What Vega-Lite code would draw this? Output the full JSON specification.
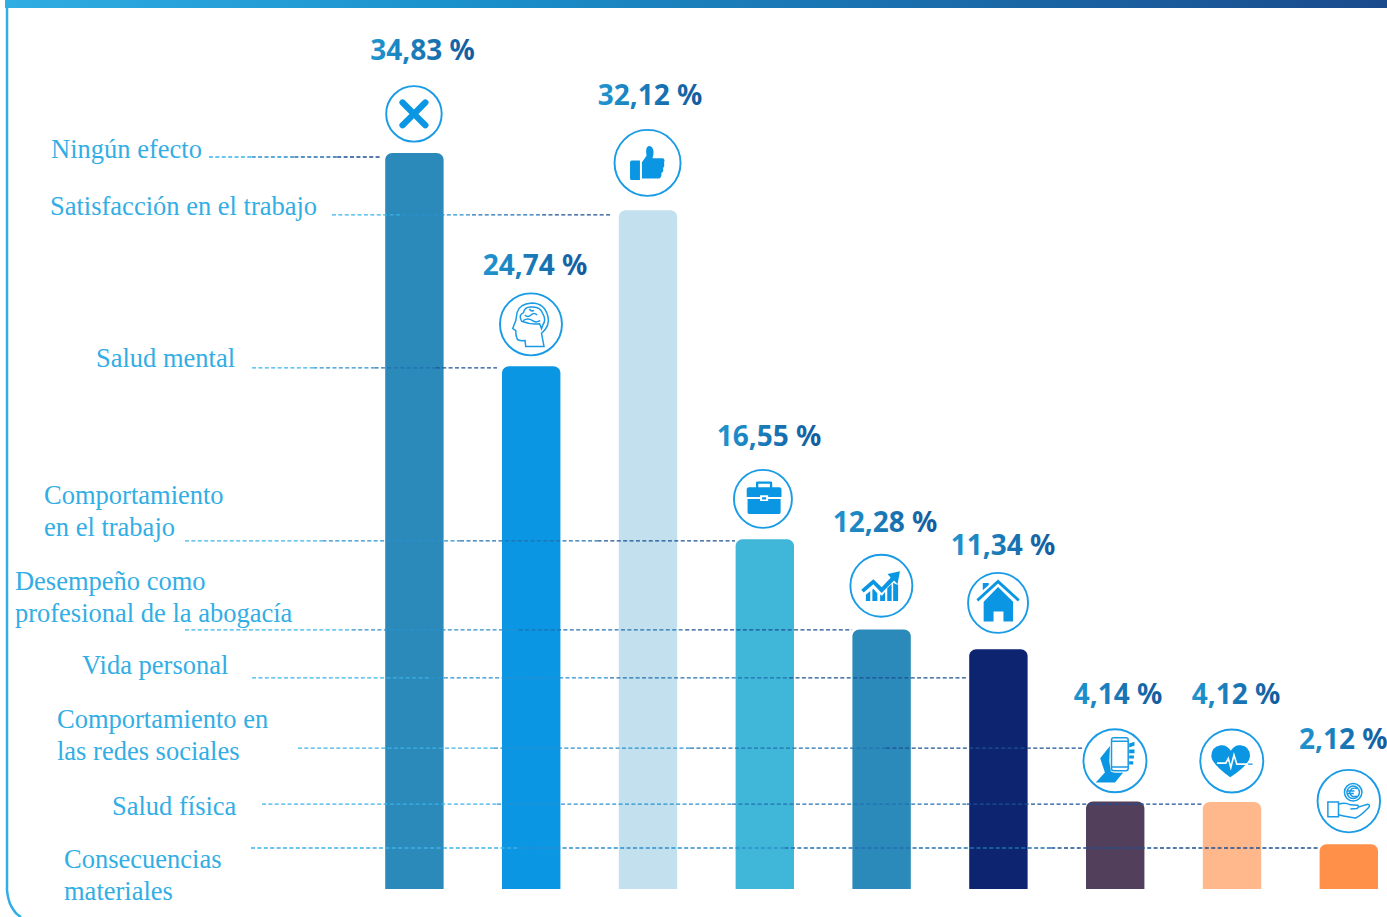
{
"$schema":"https://vega.github.io/schema/vega-lite/v6.json",
"width":1387,"height":917,"padding":0,"autosize":{"type":"none"},"background":"#ffffff",
"config":{"view":{"stroke":null},"axis":{"disable":true},"legend":{"disable":true},"scale":{"continuousPadding":0}},
"datasets":{
"barras":[
{"categoria":"Ningún efecto","columna":1,"valor":34.83,"etiqueta":"34,83 %","x_etiqueta":1.069,"y_etiqueta":39.24,"x_icono":0.996,"y_icono":36.68},
{"categoria":"Salud mental","columna":2,"valor":24.74,"etiqueta":"24,74 %","x_etiqueta":2.032,"y_etiqueta":29.07,"x_icono":1.998,"y_icono":26.72},
{"categoria":"Satisfacción en el trabajo","columna":3,"valor":32.12,"etiqueta":"32,12 %","x_etiqueta":3.017,"y_etiqueta":37.11,"x_icono":2.996,"y_icono":34.36},
{"categoria":"Comportamiento en el trabajo","columna":4,"valor":16.55,"etiqueta":"16,55 %","x_etiqueta":4.036,"y_etiqueta":20.97,"x_icono":3.984,"y_icono":18.46},
{"categoria":"Desempeño como profesional de la abogacía","columna":5,"valor":12.28,"etiqueta":"12,28 %","x_etiqueta":5.029,"y_etiqueta":16.90,"x_icono":4.998,"y_icono":14.35},
{"categoria":"Vida personal","columna":6,"valor":11.34,"etiqueta":"11,34 %","x_etiqueta":6.039,"y_etiqueta":15.81,"x_icono":5.997,"y_icono":13.54},
{"categoria":"Comportamiento en las redes sociales","columna":7,"valor":4.14,"etiqueta":"4,14 %","x_etiqueta":7.024,"y_etiqueta":8.76,"x_icono":6.998,"y_icono":6.07},
{"categoria":"Salud física","columna":8,"valor":4.12,"etiqueta":"4,12 %","x_etiqueta":8.034,"y_etiqueta":8.76,"x_icono":7.998,"y_icono":6.06},
{"categoria":"Consecuencias materiales","columna":9,"valor":2.12,"etiqueta":"2,12 %","x_etiqueta":8.952,"y_etiqueta":6.63,"x_icono":9.0,"y_icono":4.16}
],
"rotulos":[
{"texto":"Ningún efecto","x":-2.111,"y":34.59},
{"texto":"Satisfacción en el trabajo","x":-2.120,"y":31.89},
{"texto":"Salud mental","x":-1.726,"y":24.70},
{"texto":"Comportamiento\nen el trabajo","x":-2.171,"y":18.22},
{"texto":"Desempeño como\nprofesional de la abogacía","x":-2.420,"y":14.15},
{"texto":"Vida personal","x":-1.846,"y":10.17},
{"texto":"Comportamiento en\nlas redes sociales","x":-2.060,"y":7.62},
{"texto":"Salud física","x":-1.589,"y":3.50},
{"texto":"Consecuencias\nmateriales","x":-2.000,"y":0.99}
],
"guias":[
{"g":"Ningún efecto","y":34.64,"x0":-0.759,"x1":-0.393,"tono":1},
{"g":"Ningún efecto","y":34.64,"x0":-0.393,"x1":-0.027,"tono":2},
{"g":"Ningún efecto","y":34.64,"x0":-0.027,"x1":0.339,"tono":3},
{"g":"Ningún efecto","y":34.64,"x0":0.339,"x1":0.705,"tono":4},
{"g":"Satisfacción","y":31.90,"x0":0.294,"x1":0.894,"tono":1},
{"g":"Satisfacción","y":31.90,"x0":0.894,"x1":1.493,"tono":2},
{"g":"Satisfacción","y":31.90,"x0":1.493,"x1":2.093,"tono":3},
{"g":"Satisfacción","y":31.90,"x0":2.093,"x1":2.692,"tono":4},
{"g":"Salud mental","y":24.66,"x0":-0.390,"x1":0.134,"tono":1},
{"g":"Salud mental","y":24.66,"x0":0.134,"x1":0.659,"tono":2},
{"g":"Salud mental","y":24.66,"x0":0.659,"x1":1.183,"tono":3},
{"g":"Salud mental","y":24.66,"x0":1.183,"x1":1.707,"tono":4},
{"g":"Comportamiento","y":16.47,"x0":-0.964,"x1":0.213,"tono":1},
{"g":"Comportamiento","y":16.47,"x0":0.213,"x1":1.391,"tono":2},
{"g":"Comportamiento","y":16.47,"x0":1.391,"x1":2.568,"tono":3},
{"g":"Comportamiento","y":16.47,"x0":2.568,"x1":3.745,"tono":4},
{"g":"Desempeño","y":12.26,"x0":-0.964,"x1":0.464,"tono":1},
{"g":"Desempeño","y":12.26,"x0":0.464,"x1":1.892,"tono":2},
{"g":"Desempeño","y":12.26,"x0":1.892,"x1":3.319,"tono":3},
{"g":"Desempeño","y":12.26,"x0":3.319,"x1":4.747,"tono":4},
{"g":"Vida personal","y":9.99,"x0":-0.390,"x1":1.143,"tono":1},
{"g":"Vida personal","y":9.99,"x0":1.143,"x1":2.675,"tono":2},
{"g":"Vida personal","y":9.99,"x0":2.675,"x1":4.208,"tono":3},
{"g":"Vida personal","y":9.99,"x0":4.208,"x1":5.740,"tono":4},
{"g":"Redes","y":6.67,"x0":0.003,"x1":1.681,"tono":1},
{"g":"Redes","y":6.67,"x0":1.681,"x1":3.360,"tono":2},
{"g":"Redes","y":6.67,"x0":3.360,"x1":5.038,"tono":3},
{"g":"Redes","y":6.67,"x0":5.038,"x1":6.716,"tono":4},
{"g":"Salud física","y":4.02,"x0":-0.305,"x1":1.707,"tono":1},
{"g":"Salud física","y":4.02,"x0":1.707,"x1":3.719,"tono":2},
{"g":"Salud física","y":4.02,"x0":3.719,"x1":5.731,"tono":3},
{"g":"Salud física","y":4.02,"x0":5.731,"x1":7.743,"tono":4},
{"g":"Consecuencias","y":1.94,"x0":-0.399,"x1":1.885,"tono":1},
{"g":"Consecuencias","y":1.94,"x0":1.885,"x1":4.169,"tono":2},
{"g":"Consecuencias","y":1.94,"x0":4.169,"x1":6.452,"tono":3},
{"g":"Consecuencias","y":1.94,"x0":6.452,"x1":8.736,"tono":4}
],
"marco":[{"x":-2.488,"y":41.69},{"x":-2.488,"y":-0.05},{"x":-2.475,"y":-0.47},{"x":-2.437,"y":-0.95},{"x":-2.368,"y":-1.325}],
"banda":[{"x0":-2.505,"x1":9.327,"y0":41.69,"y1":42.07}]
},
"layer":[
{"data":{"name":"banda"},
 "mark":{"type":"rect","color":{"gradient":"linear","x1":0,"y1":0,"x2":1,"y2":0,"stops":[{"offset":0,"color":"#30ade3"},{"offset":0.35,"color":"#1a8fca"},{"offset":1,"color":"#1a4a8c"}]}},
 "encoding":{
  "x":{"field":"x0","type":"quantitative","scale":{"domain":[-2.548,9.327],"range":[0,1387],"nice":false,"zero":false,"padding":0}},
  "x2":{"field":"x1"},
  "y":{"field":"y0","type":"quantitative","scale":{"domain":[-1.325,42.07],"range":[917,0],"nice":false,"zero":false}},
  "y2":{"field":"y1"}}},
{"data":{"name":"marco"},
 "mark":{"type":"line","color":"#32aee4","strokeWidth":2.5,"interpolate":"monotone"},
 "encoding":{"x":{"field":"x","type":"quantitative"},"y":{"field":"y","type":"quantitative","sort":null},"order":{"field":"y","sort":"descending"}}},
{"data":{"name":"barras"},
 "mark":{"type":"bar","orient":"vertical","width":58.4,"cornerRadiusTopLeft":7,"cornerRadiusTopRight":7},
 "encoding":{"x":{"field":"columna","type":"quantitative"},"y":{"field":"valor","type":"quantitative","stack":null},
  "color":{"field":"categoria","type":"nominal","scale":{"domain":["Ningún efecto","Salud mental","Satisfacción en el trabajo","Comportamiento en el trabajo","Desempeño como profesional de la abogacía","Vida personal","Comportamiento en las redes sociales","Salud física","Consecuencias materiales"],"range":["#2b8ab9","#0b96e3","#c3e0ef","#40b6d8","#2b8ab9","#0d2570","#523f5b","#ffb88c","#ff9049"]},"legend":null}}},
{"data":{"name":"guias"},
 "mark":{"type":"rule","strokeWidth":1.3,"strokeDash":[4,2.4]},
 "encoding":{"x":{"field":"x0","type":"quantitative"},"x2":{"field":"x1"},"y":{"field":"y","type":"quantitative"},
  "color":{"field":"tono","type":"quantitative","scale":{"domain":[1,4],"range":["#3bb2e8","#1c5094"]},"legend":null}}},
{"data":{"name":"rotulos"},
 "mark":{"type":"text","font":"Liberation Serif","fontSize":26.5,"color":"#32aee4","align":"left","baseline":"alphabetic","lineBreak":"\n","lineHeight":32},
 "encoding":{"x":{"field":"x","type":"quantitative"},"y":{"field":"y","type":"quantitative"},"text":{"field":"texto","type":"nominal"}}},
{"data":{"name":"barras"},
 "mark":{"type":"text","font":"Noto Sans","fontWeight":"bold","fontSize":28,"align":"center","baseline":"alphabetic","color":{"gradient":"linear","x1":0,"y1":0,"x2":1,"y2":0,"stops":[{"offset":0,"color":"#1f95cf"},{"offset":1,"color":"#135b9d"}]}},
 "encoding":{"x":{"field":"x_etiqueta","type":"quantitative"},"y":{"field":"y_etiqueta","type":"quantitative"},"text":{"field":"etiqueta","type":"nominal"}}},
{"data":{"name":"barras"},
 "mark":{"type":"point","shape":"circle","filled":false,"stroke":"#1a9be6","strokeWidth":1.9,"opacity":1},
 "encoding":{"x":{"field":"x_icono","type":"quantitative"},"y":{"field":"y_icono","type":"quantitative"},
  "size":{"field":"categoria","type":"nominal","scale":{"type":"ordinal","domain":["Ningún efecto","Salud mental","Satisfacción en el trabajo","Comportamiento en el trabajo","Desempeño como profesional de la abogacía","Vida personal","Comportamiento en las redes sociales","Salud física","Consecuencias materiales"],"range":[3080,3844,4356,3364,3844,3600,3969,3969,3906]},"legend":null}}},
{"data":{"name":"barras"},
 "transform":[{"filter":"datum.columna != 2 && datum.columna != 9"}],
 "mark":{"type":"point","filled":true,"fill":"#0b96e3","strokeWidth":0,"opacity":1},
 "encoding":{"x":{"field":"x_icono","type":"quantitative"},"y":{"field":"y_icono","type":"quantitative"},
  "size":{"field":"categoria","type":"nominal","scale":{"type":"ordinal","domain":["Ningún efecto","Salud mental","Satisfacción en el trabajo","Comportamiento en el trabajo","Desempeño como profesional de la abogacía","Vida personal","Comportamiento en las redes sociales","Salud física","Consecuencias materiales"],"range":[3080,3844,4356,3364,3844,3600,3969,3969,3906]},"legend":null},
  "shape":{"field":"categoria","type":"nominal","legend":null,"scale":{
   "domain":["Ningún efecto","Satisfacción en el trabajo","Comportamiento en el trabajo","Desempeño como profesional de la abogacía","Vida personal","Comportamiento en las redes sociales","Salud física"],
   "range":[
    "M 0 -0.16 L 0.33 -0.49 Q 0.41 -0.57 0.49 -0.49 Q 0.57 -0.41 0.49 -0.33 L 0.16 0 L 0.49 0.33 Q 0.57 0.41 0.49 0.49 Q 0.41 0.57 0.33 0.49 L 0 0.16 L -0.33 0.49 Q -0.41 0.57 -0.49 0.49 Q -0.57 0.41 -0.49 0.33 L -0.16 0 L -0.49 -0.33 Q -0.57 -0.41 -0.49 -0.49 Q -0.41 -0.57 -0.33 -0.49 Z",
    "M -0.53 -0.02 Q -0.53 -0.07 -0.48 -0.07 L -0.23 -0.07 L -0.23 0.52 L -0.48 0.52 Q -0.53 0.52 -0.53 0.47 Z M -0.17 -0.02 L -0.03 -0.22 Q -0.06 -0.42 -0.02 -0.47 Q 0.05 -0.55 0.14 -0.47 Q 0.22 -0.35 0.15 -0.14 L 0.47 -0.14 Q 0.54 -0.1 0.5 0 Q 0.53 0.1 0.47 0.16 Q 0.5 0.27 0.42 0.3 Q 0.44 0.42 0.36 0.47 L -0.17 0.47 Z",
    "M -0.56 -0.33 Q -0.56 -0.4 -0.48 -0.4 L 0.56 -0.4 Q 0.64 -0.4 0.64 -0.33 L 0.64 -0.07 L 0.18 -0.07 L 0.18 -0.13 L -0.1 -0.13 L -0.1 -0.07 L -0.56 -0.07 Z M -0.53 0 L -0.1 0 L -0.1 0.07 L 0.18 0.07 L 0.18 0 L 0.61 0 L 0.61 0.47 Q 0.61 0.52 0.56 0.52 L -0.48 0.52 Q -0.53 0.52 -0.53 0.47 Z M -0.03 -0.06 L 0.11 -0.06 L 0.11 0.02 L -0.03 0.02 Z M -0.24 -0.4 L -0.24 -0.55 Q -0.24 -0.6 -0.19 -0.6 L 0.27 -0.6 Q 0.32 -0.6 0.32 -0.55 L 0.32 -0.4 L 0.24 -0.4 L 0.24 -0.52 L -0.16 -0.52 L -0.16 -0.4 Z",
    "M -0.65 0.13 L -0.26 -0.21 L 0.01 0.05 L 0.3 -0.26 L 0.2 -0.38 L 0.6 -0.47 L 0.52 -0.05 L 0.41 -0.17 L 0.01 0.23 L -0.26 -0.05 L -0.57 0.22 Z M -0.5 0.29 L -0.36 0.17 L -0.36 0.49 L -0.5 0.49 Z M -0.29 0.13 L -0.26 0.1 L -0.13 0.24 L -0.13 0.49 L -0.29 0.49 Z M -0.04 0.28 L 0.02 0.32 L 0.12 0.2 L 0.12 0.49 L -0.04 0.49 Z M 0.19 0.08 L 0.33 -0.06 L 0.33 0.49 L 0.19 0.49 Z M 0.38 -0.1 L 0.47 -0.05 L 0.54 -0.03 L 0.54 0.49 L 0.38 0.49 Z",
    "M 0 -0.53 L 0.5 -0.04 L 0.5 0.62 L 0.18 0.62 L 0.18 0.29 L -0.15 0.29 L -0.15 0.62 L -0.48 0.62 L -0.48 -0.04 Z M 0 -0.78 L 0.72 -0.12 L 0.66 -0.05 L 0 -0.65 L -0.66 -0.05 L -0.72 -0.12 Z M -0.51 -0.66 L -0.31 -0.66 L -0.31 -0.6 L -0.51 -0.42 Z",
    "M -0.61 0.69 L -0.32 0.37 L -0.47 -0.08 L -0.16 -0.47 L -0.18 0.02 L -0.13 0.33 Q -0.05 0.4 0.26 0.37 L 0 0.69 Z M 0.45 -0.55 L 0.62 -0.6 L 0.62 -0.48 L 0.45 -0.42 Z M 0.45 -0.36 L 0.62 -0.36 L 0.62 -0.24 L 0.45 -0.24 Z M 0.45 -0.17 L 0.6 -0.17 L 0.6 -0.07 L 0.45 -0.07 Z M 0.45 0.02 L 0.58 0.02 L 0.58 0.12 L 0.45 0.12 Z",
    "M -0.03 -0.32 Q -0.15 -0.52 -0.35 -0.5 Q -0.65 -0.45 -0.65 -0.15 Q -0.63 0.1 -0.05 0.52 Q 0.56 0.12 0.58 -0.15 Q 0.58 -0.47 0.28 -0.5 Q 0.08 -0.52 -0.03 -0.32 Z M 0.5 0.08 L 0.66 0.08 L 0.66 0.12 L 0.5 0.12 Z"
   ]}}}},
{"data":{"name":"barras"},
 "transform":[{"filter":"datum.columna == 8"}],
 "mark":{"type":"point","filled":false,"stroke":"#ffffff","strokeWidth":1.6,"opacity":1,"shape":"M -0.47 0.07 L -0.19 0.07 L -0.11 -0.08 L -0.03 0.21 L 0.07 -0.19 L 0.16 0.1 L 0.52 0.1"},
 "encoding":{"x":{"field":"x_icono","type":"quantitative"},"y":{"field":"y_icono","type":"quantitative"},"size":{"field":"categoria","type":"nominal","scale":{"type":"ordinal","domain":["Ningún efecto","Salud mental","Satisfacción en el trabajo","Comportamiento en el trabajo","Desempeño como profesional de la abogacía","Vida personal","Comportamiento en las redes sociales","Salud física","Consecuencias materiales"],"range":[3080,3844,4356,3364,3844,3600,3969,3969,3906]},"legend":null}}},
{"data":{"name":"barras"},
 "transform":[{"filter":"datum.columna == 2 || datum.columna == 7 || datum.columna == 9"}],
 "mark":{"type":"point","filled":false,"stroke":"#1a9be6","strokeWidth":1.5,"opacity":1},
 "encoding":{"x":{"field":"x_icono","type":"quantitative"},"y":{"field":"y_icono","type":"quantitative"},
  "size":{"field":"categoria","type":"nominal","scale":{"type":"ordinal","domain":["Ningún efecto","Salud mental","Satisfacción en el trabajo","Comportamiento en el trabajo","Desempeño como profesional de la abogacía","Vida personal","Comportamiento en las redes sociales","Salud física","Consecuencias materiales"],"range":[3080,3844,4356,3364,3844,3600,3969,3969,3906]},"legend":null},
  "shape":{"field":"categoria","type":"nominal","legend":null,"scale":{
   "domain":["Salud mental","Comportamiento en las redes sociales","Consecuencias materiales"],
   "range":[
    "M 0.42 0.71 L 0.34 0.29 Q 0.62 0.05 0.55 -0.24 Q 0.45 -0.69 0.02 -0.69 Q -0.38 -0.66 -0.45 -0.38 L -0.49 -0.12 L -0.59 0.13 L -0.49 0.2 L -0.48 0.36 L -0.44 0.48 Q -0.4 0.54 -0.19 0.52 L -0.17 0.71 Z M -0.3 -0.1 Q -0.42 -0.3 -0.24 -0.38 Q -0.2 -0.58 0.02 -0.56 Q 0.3 -0.58 0.38 -0.35 Q 0.5 -0.15 0.38 0.02 L 0.34 0.14 L 0.28 -0.02 Q 0 0.02 -0.3 -0.1 Z M -0.2 -0.3 Q -0.1 -0.2 0 -0.3 Q 0.1 -0.4 0.2 -0.3 M -0.25 -0.12 Q -0.1 -0.22 0.05 -0.12 Q 0.15 -0.04 0.3 -0.12 M -0.05 -0.5 Q 0 -0.4 0.1 -0.45",
    "M -0.11 -0.66 Q -0.11 -0.73 -0.04 -0.73 L 0.35 -0.73 Q 0.42 -0.73 0.42 -0.66 L 0.42 0.25 Q 0.42 0.32 0.35 0.32 L -0.04 0.32 Q -0.11 0.32 -0.11 0.25 Z M -0.09 -0.62 L 0.4 -0.62 M -0.09 0.2 L 0.4 0.2",
    "M -0.67 0.03 L -0.33 0.03 L -0.33 0.5 L -0.67 0.5 Z M -0.33 0.1 Q -0.12 0.03 0.05 0.12 L 0.28 0.13 Q 0.34 0.17 0.26 0.24 L 0.05 0.25 M 0.28 0.2 L 0.6 0.1 Q 0.72 0.12 0.62 0.22 Q 0.4 0.45 0.22 0.54 Q 0 0.52 -0.33 0.44 M 0.14 -0.56 C 0.295 -0.56 0.42 -0.435 0.42 -0.28 C 0.42 -0.125 0.295 0 0.14 0 C -0.015 0 -0.14 -0.125 -0.14 -0.28 C -0.14 -0.435 -0.015 -0.56 0.14 -0.56 Z M 0.14 -0.48 C 0.25 -0.48 0.34 -0.39 0.34 -0.28 C 0.34 -0.17 0.25 -0.08 0.14 -0.08 C 0.03 -0.08 -0.06 -0.17 -0.06 -0.28 C -0.06 -0.39 0.03 -0.48 0.14 -0.48 Z M 0.26 -0.4 Q 0.06 -0.46 0.03 -0.28 Q 0.06 -0.1 0.26 -0.16 M -0.03 -0.32 L 0.18 -0.32 M -0.03 -0.24 L 0.16 -0.24"
   ]}}}}
],
"resolve":{"scale":{"color":"independent","shape":"independent"}}
}
